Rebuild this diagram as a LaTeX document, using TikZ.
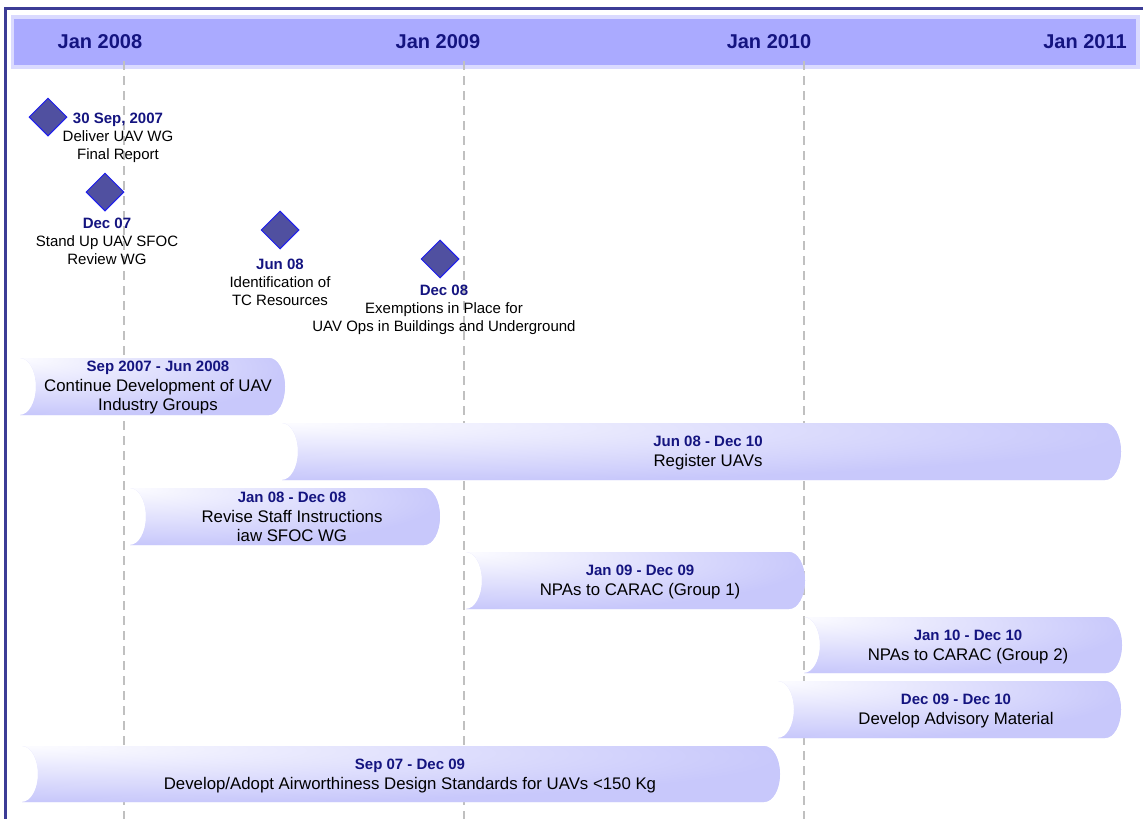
\documentclass[tikz,border=0pt]{standalone}
\usepackage{fontspec}
\setmainfont{Liberation Sans}
\usetikzlibrary{shapes.geometric}

\definecolor{navy}{RGB}{20,20,128}
\definecolor{frameblue}{RGB}{60,60,150}
\definecolor{bandblue}{RGB}{170,170,255}
\definecolor{bandedge}{RGB}{218,218,255}
\definecolor{gridgrey}{RGB}{192,192,192}
\definecolor{msfill}{RGB}{80,80,160}
\definecolor{msdraw}{RGB}{30,30,240}
\definecolor{barlight}{RGB}{252,252,255}
\definecolor{bardark}{RGB}{200,200,251}

% light spot in the upper left corner of each bar
\pgfdeclareradialshading{barglow}{\pgfpoint{-25bp}{25bp}}{%
  color(0bp)=(barlight); color(40bp)=(bardark); color(100bp)=(bardark)}

% bar with concave left end and round right end: x0, x1, top, bottom
\newcommand\taskbar[4]{%
  \fill[taskfill] (#1,#3) -- ({#2-16},#3)
    arc[start angle=-90, end angle=90, x radius=16, y radius={(#4-#3)/2}]
    -- (#1,#4)
    arc[start angle=90, end angle=-90, x radius=16, y radius={(#4-#3)/2}]
    -- cycle;}
\newcommand\msdate[1]{{\color{navy}\bfseries #1}}
\newcommand\bardate[1]{{\fontsize{15}{19.5}\selectfont\color{navy}\bfseries #1}}

\begin{document}
\begin{tikzpicture}[x=1pt, y=-1pt,
    yearlabel/.style={font=\fontsize{20}{24}\selectfont\bfseries, text=navy, inner sep=0pt},
    milestone/.style={diamond, draw=msdraw, fill=msfill, line width=1pt,
      minimum width=38pt, minimum height=38pt, inner sep=0pt},
    mstext/.style={align=center, font=\fontsize{15}{18}\selectfont, inner sep=0pt},
    bartext/.style={align=center, font=\fontsize{16.8}{19.5}\selectfont, inner sep=0pt},
    gridline/.style={draw=gridgrey, line width=2pt, dash pattern=on 9pt off 6pt},
    taskfill/.style={fill=bardark!60!barlight, postaction={shading=barglow, shade}}]
        \useasboundingbox (0, 0) rectangle (1143, 819);

        % frame and time band
        \draw[frameblue, line width=3pt] (5.5, 819) -- (5.5, 8.5) -- (1143, 8.5);
        \fill[bandedge] (11, 15) rectangle (1140, 69);
        \fill[bandblue] (14, 19) rectangle (1136, 65);

        \node[yearlabel](y2008) at (100, 42) {Jan 2008};
        \node[yearlabel](y2009) at (438, 42) {Jan 2009};
        \node[yearlabel](y2010) at (769, 42) {Jan 2010};
        \node[yearlabel](y2011) at (1085, 42) {Jan 2011};

        \foreach \x in {124, 464, 804}
            \draw[gridline] (\x, 61) -- (\x, 819);

        % tasks
        \taskbar{20}{285}{358}{415}
        \taskbar{282}{1121}{423}{480}
        \taskbar{130}{440}{488}{545}
        \taskbar{466}{805}{552}{609}
        \taskbar{804}{1122}{617}{673}
        \taskbar{778}{1121}{681}{738}
        \taskbar{22}{780}{746}{802}

        \node[bartext](task1) at (158, 388) {\bardate{Sep 2007 - Jun 2008}\\Continue Development of UAV\\Industry Groups};
        \node[bartext](task2) at (708, 453) {\bardate{Jun 08 - Dec 10}\\Register UAVs};
        \node[bartext](task3) at (292, 517) {\bardate{Jan 08 - Dec 08}\\Revise Staff Instructions\\iaw SFOC WG};
        \node[bartext](task4) at (640, 582) {\bardate{Jan 09 - Dec 09}\\NPAs to CARAC (Group 1)};
        \node[bartext](task5) at (968, 647) {\bardate{Jan 10 - Dec 10}\\NPAs to CARAC (Group 2)};
        \node[bartext](task6) at (956, 711) {\bardate{Dec 09 - Dec 10}\\Develop Advisory Material};
        \node[bartext](task7) at (410, 776) {\bardate{Sep 07 - Dec 09}\\Develop/Adopt Airworthiness Design Standards for UAVs <150 Kg};

        % milestones
        \node[milestone](ms1) at (48, 117) {};
        \node[milestone](ms2) at (105, 192) {};
        \node[milestone](ms3) at (280, 230) {};
        \node[milestone](ms4) at (440, 259) {};

        \node[mstext](ms1txt) at (118, 138) {\msdate{30 Sep, 2007}\\Deliver UAV WG\\Final Report};
        \node[mstext](ms2txt) at (107, 241) {\msdate{Dec 07}\\Stand Up UAV SFOC\\Review WG};
        \node[mstext](ms3txt) at (280, 282) {\msdate{Jun 08}\\Identification of\\TC Resources};
        \node[mstext](ms4txt) at (444, 310) {\msdate{Dec 08}\\Exemptions in Place for\\UAV Ops in Buildings and Underground};
    \end{tikzpicture}
\end{document}
